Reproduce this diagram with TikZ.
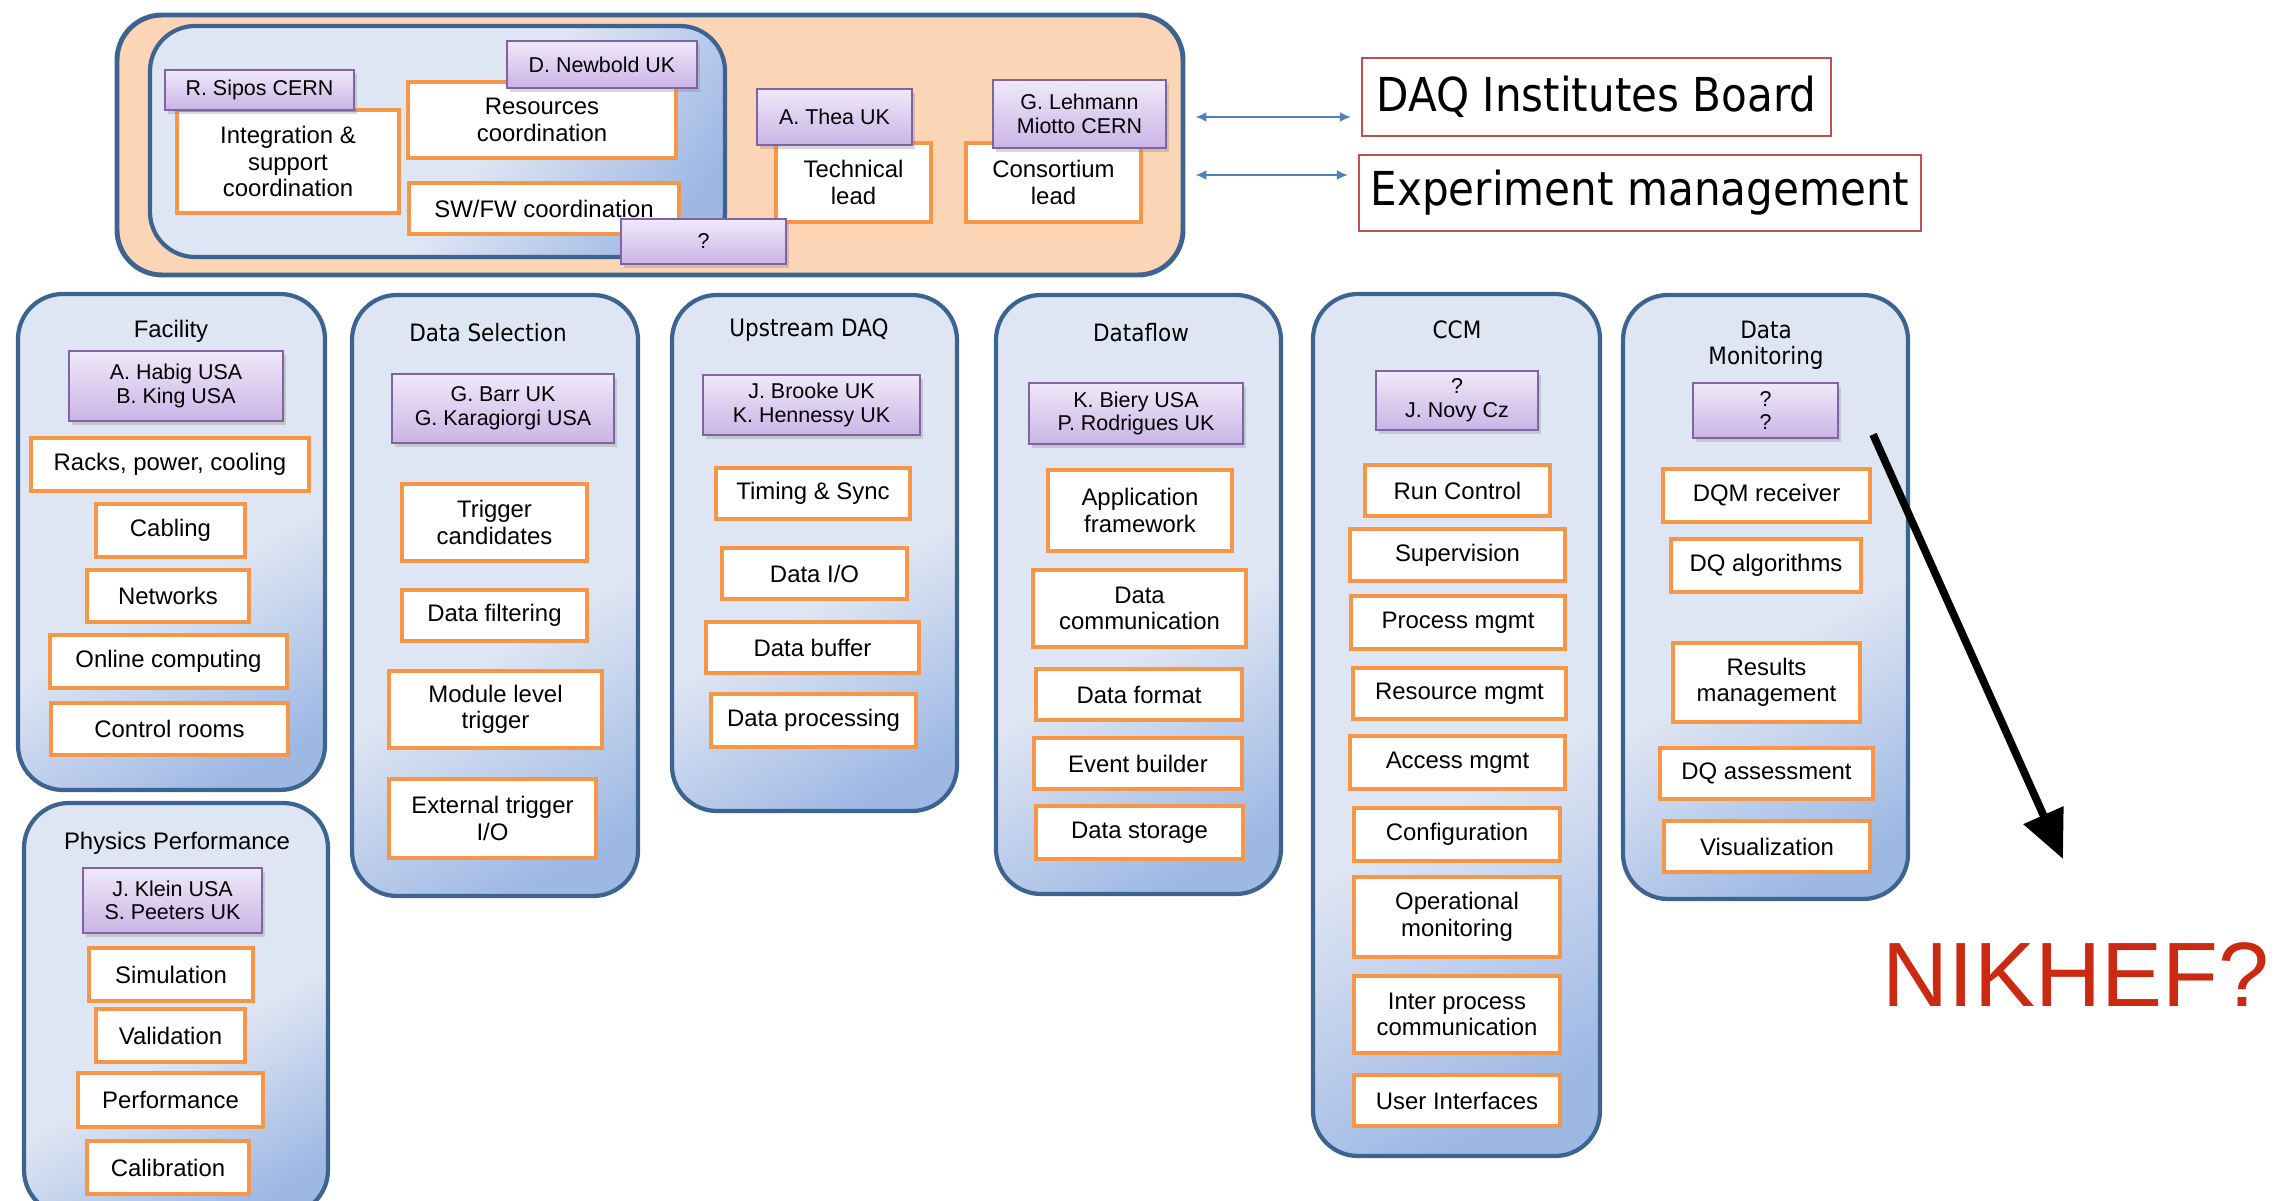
\documentclass[tikz,border=0pt]{standalone}
\usepackage{fontspec}
\setmainfont{Liberation Sans}
\newfontfamily\tahoma[FakeStretch=0.9]{DejaVu Sans}
\usetikzlibrary{shadows,arrows.meta}

\definecolor{grpBorder}{RGB}{61,100,145}
\definecolor{grpLight}{RGB}{223,230,243}
\definecolor{grpDark}{RGB}{158,184,228}
\definecolor{itemOrange}{RGB}{247,150,70}
\definecolor{leadTop}{RGB}{239,233,249}
\definecolor{leadBot}{RGB}{203,180,230}
\definecolor{leadBorder}{RGB}{128,100,162}
\definecolor{topFill}{RGB}{251,213,181}
\definecolor{boxRed}{RGB}{192,80,77}
\definecolor{arrBlue}{RGB}{79,129,189}
\definecolor{nikRed}{RGB}{204,41,18}

\pgfdeclareverticalshading{grpshade}{100bp}{color(0bp)=(grpDark); color(22bp)=(grpDark); color(45bp)=(grpLight); color(100bp)=(grpLight)}

\begin{document}
\begin{tikzpicture}[x=0.01cm, y=-0.01cm,
  sz/.style 2 args={minimum width=#1*0.01cm, minimum height=#2*0.01cm},
  grp/.style={draw=grpBorder, line width=1.2pt, rounded corners=0.45cm, shade, shading=grpshade, shading angle=30},
  topbox/.style={draw=grpBorder, line width=1.4pt, rounded corners=0.45cm, fill=topFill},
  item/.style={draw=itemOrange, line width=1.3pt, fill=white, inner sep=0pt, align=center, font=\fontsize{6.8}{7.5}\selectfont},
  lead/.style={draw=leadBorder, line width=0.6pt, top color=leadTop, bottom color=leadBot, inner sep=0pt, align=center,
    font=\fontsize{6.1}{6.7}\selectfont, drop shadow={shadow xshift=0.03cm, shadow yshift=-0.04cm, opacity=0.3}},
  gtitle/.style={font=\fontsize{6.8}{7.5}\selectfont, align=center, inner sep=0pt},
  gtitleT/.style={font=\tahoma\fontsize{6.8}{7.5}\selectfont, align=center, inner sep=0pt},
  redbox/.style={draw=boxRed, line width=0.6pt, fill=white, inner sep=0pt, font=\tahoma\fontsize{13.3}{15}\selectfont},
  conn/.style={draw=arrBlue, line width=0.6pt, {Latex[length=1.1mm,width=1mm]}-{Latex[length=1.1mm,width=1mm]},
    shorten <=0.1cm, shorten >=0.1cm},
  bigarr/.style={draw=black, line width=2.2pt, -{Triangle[length=0.48cm,width=0.42cm]}},
]
  \useasboundingbox (0,0) rectangle (2291,1201);

  % Management
  \node[topbox, sz={1066}{260}] (mgmt) at (650,145) {};
  \node[grp, sz={575}{231}, shading angle=55] (coord) at (437.5,141.5) {};
  \node[item, sz={222}{103}] (integ) at (288,161.5) {Integration \&\\support\\coordination};
  \node[item, sz={268}{76}] (resc) at (542,120) {Resources\\coordination};
  \node[item, sz={270}{51}] (swfw) at (544,208.5) {SW/FW coordination};
  \node[item, sz={155}{79}] (techl) at (853.5,182.5) {Technical\\lead};
  \node[item, sz={175}{79}] (consl) at (1053.5,182.5) {Consortium\\lead};
  \node[lead, sz={189}{40}] (sipos) at (259.5,90) {R. Sipos CERN};
  \node[lead, sz={190}{47}] (newb) at (602,64.5) {D. Newbold UK};
  \node[lead, sz={165}{45}] (swlead) at (703.5,241.5) {?};
  \node[lead, sz={155}{56}] (thea) at (834.5,117) {A. Thea UK};
  \node[lead, sz={173}{68}] (lehm) at (1079.5,114) {G. Lehmann\\Miotto CERN};

  % Boards
  \node[redbox, sz={469}{78}] (dib) at (1596.5,97) {DAQ Institutes Board};
  \node[redbox, sz={562}{76}] (expm) at (1640,193) {Experiment management};
  \coordinate (dibY) at (0,117);
  \coordinate (expY) at (0,175);
  \draw[conn] (mgmt.east |- dibY) -- (dib.west |- dibY);
  \draw[conn] (mgmt.east |- expY) -- (expm.west |- expY);

  % Facility
  \draw[grp] (18,294) rectangle (325,790);
  \node[gtitle] (facT) at (171,331) {Facility};
  \node[lead, sz={214}{70}] (facL) at (176,386) {A. Habig USA\\B. King USA};
  \foreach \x/\y/\w/\h/\t [count=\i] in {
    170/464.5/278/53/{Racks, power, cooling},
    170.5/530.5/149/53/Cabling,
    168/596/162/52/Networks,
    168.5/661.5/237/53/Online computing,
    169.5/729/237/52/Control rooms}
    \node[item, sz={\w}{\h}] (fac\i) at (\x,\y) {\t};

  % Physics Performance
  \draw[grp] (24,803) rectangle (328,1215);
  \node[gtitle] (phyT) at (177,843) {Physics Performance};
  \node[lead, sz={179}{65}] (phyL) at (172.5,900.5) {J. Klein USA\\S. Peeters UK};
  \foreach \x/\y/\w/\h/\t [count=\i] in {
    171/974.5/164/53/Simulation,
    170.5/1035.5/149/53/Validation,
    170.5/1100/185/54/Performance,
    168/1167.5/162/53/Calibration}
    \node[item, sz={\w}{\h}] (phy\i) at (\x,\y) {\t};

  % Data Selection
  \draw[grp] (352,295) rectangle (638,896);
  \node[gtitleT] (dsT) at (488,333) {Data Selection};
  \node[lead, sz={222}{69}] (dsL) at (503,408.5) {G. Barr UK\\G. Karagiorgi USA};
  \foreach \x/\y/\w/\h/\t [count=\i] in {
    494.5/522.5/185/77/Trigger\\candidates,
    494.5/615.5/185/51/Data filtering,
    495.5/709.5/213/77/Module level\\trigger,
    492.5/818.5/207/79/{External trigger\\I/O}}
    \node[item, sz={\w}{\h}] (ds\i) at (\x,\y) {\t};

  % Upstream DAQ
  \draw[grp] (672,295) rectangle (957,811);
  \node[gtitleT] (upT) at (809,330) {Upstream DAQ};
  \node[lead, sz={217}{60}] (upL) at (811.5,405) {J. Brooke UK\\K. Hennessy UK};
  \foreach \x/\y/\w/\h/\t [count=\i] in {
    813/493.5/194/51/Timing \& Sync,
    814.5/573.5/185/51/{Data I/O},
    812.5/647.5/213/51/Data buffer,
    813.5/720.5/205/53/Data processing}
    \node[item, sz={\w}{\h}] (up\i) at (\x,\y) {\t};

  % Dataflow
  \draw[grp] (996,295) rectangle (1281,894);
  \node[gtitleT] (dfT) at (1141,333) {Dataflow};
  \node[lead, sz={214}{61}] (dfL) at (1136,413.5) {K. Biery USA\\P. Rodrigues UK};
  \foreach \x/\y/\w/\h/\t [count=\i] in {
    1140/510.5/184/81/Application\\framework,
    1139.5/608.5/213/77/Data\\communication,
    1139/694.5/206/51/Data format,
    1138/763.5/208/51/Event builder,
    1139.5/832.5/207/53/Data storage}
    \node[item, sz={\w}{\h}] (df\i) at (\x,\y) {\t};

  % CCM
  \draw[grp] (1313,294) rectangle (1600,1156);
  \node[gtitleT] (ccmT) at (1457,330) {CCM};
  \node[lead, sz={162}{59}] (ccmL) at (1457,400.5) {?\\J. Novy Cz};
  \foreach \x/\y/\w/\h/\t [count=\i] in {
    1457.5/490.5/185/51/Run Control,
    1457.5/555/215/52/Supervision,
    1458/622.5/214/53/Process mgmt,
    1459.5/693.5/213/51/Resource mgmt,
    1457.5/762.5/215/53/Access mgmt,
    1457/834.5/206/53/Configuration,
    1457/917/206/80/Operational\\monitoring,
    1457/1014.5/206/77/Inter process\\communication,
    1457/1100.5/206/51/User Interfaces}
    \node[item, sz={\w}{\h}] (ccm\i) at (\x,\y) {\t};

  % Data Monitoring
  \draw[grp] (1623,295) rectangle (1908,899);
  \node[gtitleT] (dmT) at (1766,345) {Data\\Monitoring};
  \node[lead, sz={145}{55}] (dmL) at (1765.5,410.5) {?\\?};
  \foreach \x/\y/\w/\h/\t [count=\i] in {
    1766.5/495.5/207/53/DQM receiver,
    1766/565.5/190/53/DQ algorithms,
    1766.5/682.5/187/79/Results\\management,
    1766.5/773.5/213/51/DQ assessment,
    1767/846.5/206/51/Visualization}
    \node[item, sz={\w}{\h}] (dm\i) at (\x,\y) {\t};

  % NIKHEF
  \node[font=\fontsize{26}{30}\selectfont, text=nikRed, inner sep=0pt] (nik) at (2076,975) {NIKHEF?};
  \coordinate (nikA) at (2063,859);
  \draw[bigarr] ([shift={(34,24)}]dmL.east) -- (nikA);
\end{tikzpicture}
\end{document}
